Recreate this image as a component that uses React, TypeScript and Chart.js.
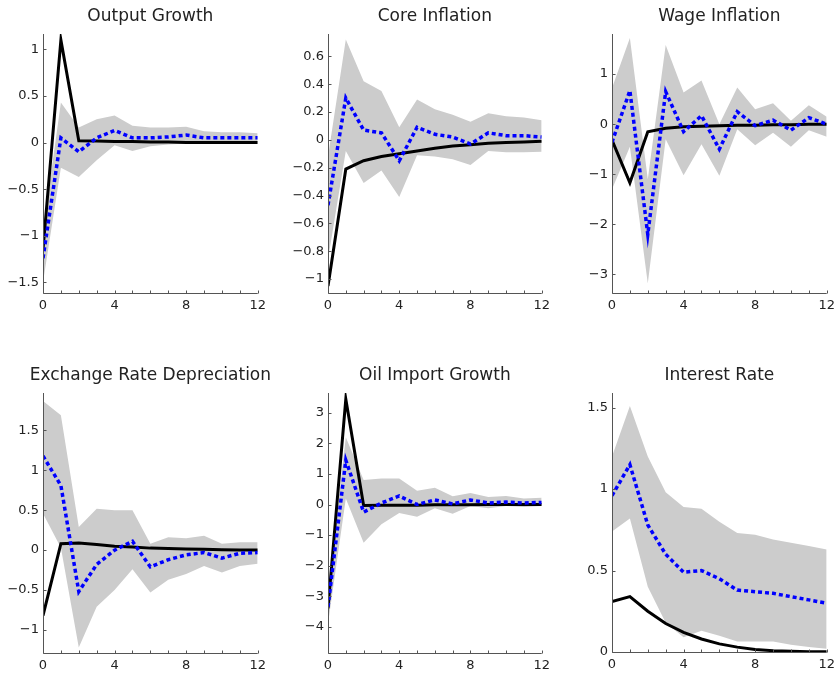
import React, { useEffect, useRef } from "react";
import { Chart, registerables } from "chart.js";

Chart.register(...registerables);

const horizons = [0, 1, 2, 3, 4, 5, 6, 7, 8, 9, 10, 11, 12];
const xTickLabels = [0, 4, 8, 12];

// Output Growth
const outBlack = [-1.15, 1.1, 0.02, 0.015, 0.01, 0.01, 0.005, 0.005, 0, 0, 0, 0, 0];
const outBlue = [-1.24, 0.05, -0.1, 0.05, 0.13, 0.05, 0.05, 0.06, 0.08, 0.05, 0.05, 0.05, 0.05];
const outUpper = [-0.95, 0.43, 0.16, 0.25, 0.29, 0.18, 0.16, 0.16, 0.17, 0.12, 0.11, 0.11, 0.1];
const outLower = [-1.5, -0.27, -0.37, -0.19, -0.03, -0.09, -0.04, -0.02, -0.01, -0.01, -0.01, -0.01, -0.01];
const outTicks = [-1.5, -1, -0.5, 0, 0.5, 1];

// Core Inflation
const coreBlack = [-1.05, -0.21, -0.15, -0.12, -0.1, -0.08, -0.06, -0.045, -0.035, -0.025, -0.02, -0.015, -0.01];
const coreBlue = [-0.47, 0.3, 0.07, 0.05, -0.15, 0.09, 0.04, 0.02, -0.03, 0.05, 0.03, 0.03, 0.02];
const coreUpper = [-0.12, 0.72, 0.42, 0.35, 0.09, 0.29, 0.22, 0.18, 0.13, 0.19, 0.17, 0.16, 0.14];
const coreLower = [-0.86, -0.08, -0.31, -0.22, -0.41, -0.11, -0.12, -0.14, -0.18, -0.08, -0.09, -0.09, -0.085];
const coreTicks = [-1, -0.8, -0.6, -0.4, -0.2, 0, 0.2, 0.4, 0.6];

// Wage Inflation
const wageBlack = [-0.32, -1.17, -0.15, -0.08, -0.05, -0.04, -0.03, -0.02, -0.02, -0.01, -0.01, 0, 0];
const wageBlue = [-0.36, 0.67, -2.2, 0.65, -0.15, 0.17, -0.5, 0.25, -0.03, 0.08, -0.12, 0.13, 0.0];
const wageUpper = [0.72, 1.72, -1.1, 1.58, 0.63, 0.87, 0.0, 0.73, 0.3, 0.42, 0.07, 0.38, 0.15];
const wageLower = [-1.3, -0.45, -3.18, -0.3, -1.02, -0.4, -1.03, -0.1, -0.42, -0.17, -0.45, -0.12, -0.25];
const wageTicks = [-3, -2, -1, 0, 1];

// Exchange Rate Depreciation
const exBlack = [-0.82, 0.08, 0.09, 0.07, 0.05, 0.04, 0.025, 0.02, 0.015, 0.01, 0.005, 0, 0];
const exBlue = [1.18, 0.81, -0.52, -0.18, 0.0, 0.11, -0.21, -0.12, -0.06, -0.03, -0.1, -0.04, -0.03];
const exUpper = [1.87, 1.69, 0.29, 0.52, 0.5, 0.5, 0.08, 0.16, 0.15, 0.18, 0.08, 0.1, 0.1];
const exLower = [0.46, 0.03, -1.22, -0.71, -0.5, -0.24, -0.53, -0.37, -0.3, -0.2, -0.28, -0.2, -0.17];
const exTicks = [-1, -0.5, 0, 0.5, 1, 1.5];

// Oil Import Growth
const oilBlack = [-3.4, 3.45, -0.03, -0.02, -0.02, -0.02, -0.01, -0.01, -0.01, 0, 0, 0, 0];
const oilBlue = [-3.35, 1.45, -0.25, 0.05, 0.28, 0.0, 0.15, 0.02, 0.15, 0.05, 0.08, 0.05, 0.07];
const oilUpper = [-2.9, 2.2, 0.8, 0.85, 0.85, 0.45, 0.55, 0.27, 0.38, 0.25, 0.28, 0.2, 0.22];
const oilLower = [-3.9, 0.2, -1.25, -0.65, -0.28, -0.4, -0.12, -0.3, -0.05, -0.12, -0.05, -0.08, -0.05];
const oilTicks = [-4, -3, -2, -1, 0, 1, 2, 3];

// Interest Rate
const intBlack = [0.31, 0.34, 0.25, 0.175, 0.12, 0.08, 0.05, 0.03, 0.015, 0.008, 0.004, 0.002, 0.001];
const intBlue = [0.96, 1.15, 0.78, 0.6, 0.49, 0.5, 0.45, 0.38, 0.37, 0.36, 0.34, 0.32, 0.3];
const intUpper = [1.2, 1.51, 1.2, 0.98, 0.89, 0.88, 0.8, 0.73, 0.72, 0.69, 0.67, 0.65, 0.63];
const intLower = [0.74, 0.82, 0.4, 0.18, 0.09, 0.13, 0.1, 0.065, 0.065, 0.065, 0.045, 0.03, 0.02];
const intTicks = [0, 0.5, 1, 1.5];

const FONT = "'DejaVu Sans', sans-serif";
const Y_W = 42;
const TOP_PAD = 34;
const X_H = 26;
const RIGHT_PAD = 12;

type PanelProps = {
  title: string;
  black: number[];
  blue: number[];
  upper: number[];
  lower: number[];
  yTicks: number[];
  yMin: number;
  yMax: number;
  L: number;
  R: number;
  T: number;
  B: number;
};

const fmt = (v: number) => (v < 0 ? "\u2212" + String(Math.abs(v)) : String(v));
const pts = (arr: number[]) => horizons.map((h, i) => ({ x: h, y: arr[i] }));

function Panel(p: PanelProps) {
  const ref = useRef<HTMLCanvasElement | null>(null);
  const W = p.R - p.L + Y_W + RIGHT_PAD;
  const H = p.B - p.T + TOP_PAD + X_H;
  useEffect(() => {
    if (!ref.current) return;
    const deco = {
      id: "deco",
      afterDatasetsDraw(chart: any) {
        const { ctx, chartArea, scales } = chart;
        const x = scales.x;
        const y = scales.y;
        ctx.save();
        ctx.strokeStyle = "#555";
        ctx.lineWidth = 1;
        ctx.beginPath();
        const ax = Math.round(chartArea.left) + 0.5;
        const ay = Math.round(chartArea.bottom) + 0.5;
        ctx.moveTo(ax, chartArea.top);
        ctx.lineTo(ax, ay);
        ctx.lineTo(chartArea.right, ay);
        x.ticks.forEach((t: any) => {
          const px = Math.round(x.getPixelForValue(t.value)) + 0.5;
          ctx.moveTo(px, ay);
          ctx.lineTo(px, ay - 3);
        });
        y.ticks.forEach((t: any) => {
          const py = Math.round(y.getPixelForValue(t.value)) + 0.5;
          ctx.moveTo(ax, py);
          ctx.lineTo(ax + 3, py);
        });
        ctx.stroke();
        ctx.fillStyle = "#222";
        ctx.font = "17px " + FONT;
        ctx.textAlign = "center";
        ctx.textBaseline = "middle";
        ctx.fillText(p.title, (chartArea.left + chartArea.right) / 2, chartArea.top - 17);
        ctx.restore();
      },
    };
    const chart = new Chart(ref.current, {
      type: "line",
      data: {
        datasets: [
          {
            data: pts(p.blue),
            borderColor: "#0000ff",
            borderWidth: 3.5,
            borderDash: [4, 3],
            pointRadius: 0,
            fill: false,
            order: 0,
          },
          {
            data: pts(p.black),
            borderColor: "#000000",
            borderWidth: 3,
            pointRadius: 0,
            fill: false,
            order: 1,
          },
          {
            data: pts(p.upper),
            borderColor: "rgba(0,0,0,0)",
            borderWidth: 0,
            backgroundColor: "#cccccc",
            pointRadius: 0,
            fill: "+1",
            order: 2,
          },
          {
            data: pts(p.lower),
            borderColor: "rgba(0,0,0,0)",
            borderWidth: 0,
            pointRadius: 0,
            fill: false,
            order: 3,
          },
        ],
      },
      options: {
        responsive: false,
        animation: false,
        devicePixelRatio: 1,
        layout: { padding: { left: 0, right: RIGHT_PAD, top: TOP_PAD, bottom: 0 } },
        plugins: { legend: { display: false }, tooltip: { enabled: false }, title: { display: false } },
        elements: { line: { tension: 0 } },
        scales: {
          x: {
            type: "linear",
            min: 0,
            max: 12,
            grid: { display: false, drawTicks: false },
            border: { display: false },
            afterBuildTicks: (s: any) => {
              s.ticks = horizons.map((v) => ({ value: v }));
            },
            afterFit: (s: any) => {
              s.height = X_H;
            },
            ticks: {
              autoSkip: false,
              maxRotation: 0,
              padding: 5,
              color: "#222",
              font: { family: FONT, size: 13 },
              callback: (v: any) => (xTickLabels.includes(Number(v)) ? String(v) : ""),
            },
          },
          y: {
            type: "linear",
            min: p.yMin,
            max: p.yMax,
            grid: { display: false, drawTicks: false },
            border: { display: false },
            afterBuildTicks: (s: any) => {
              s.ticks = p.yTicks.map((v) => ({ value: v }));
            },
            afterFit: (s: any) => {
              s.width = Y_W;
            },
            ticks: {
              autoSkip: false,
              padding: 4,
              color: "#222",
              font: { family: FONT, size: 13 },
              callback: (v: any) => fmt(Number(v)),
            },
          },
        },
      },
      plugins: [deco],
    } as any);
    return () => chart.destroy();
  }, []);
  return (
    <div style={{ position: "absolute", left: p.L - Y_W, top: p.T - TOP_PAD, width: W, height: H }}>
      <canvas ref={ref} width={W} height={H} style={{ display: "block", width: W, height: H }} />
    </div>
  );
}

export default function App() {
  return (
    <div
      style={{
        position: "absolute",
        left: 0,
        top: 0,
        width: 837,
        height: 679,
        overflow: "hidden",
        background: "#fff",
      }}
    >
      <Panel title="Output Growth" black={outBlack} blue={outBlue} upper={outUpper} lower={outLower} yTicks={outTicks} yMin={-1.614} yMax={1.164} L={43} R={259} T={34} B={293} />
      <Panel title="Core Inflation" black={coreBlack} blue={coreBlue} upper={coreUpper} lower={coreLower} yTicks={coreTicks} yMin={-1.1} yMax={0.76} L={328} R={543} T={34} B={293} />
      <Panel title="Wage Inflation" black={wageBlack} blue={wageBlue} upper={wageUpper} lower={wageLower} yTicks={wageTicks} yMin={-3.37} yMax={1.8} L={612} R={828} T={34} B={293} />
      <Panel title="Exchange Rate Depreciation" black={exBlack} blue={exBlue} upper={exUpper} lower={exLower} yTicks={exTicks} yMin={-1.29} yMax={1.97} L={43} R={259} T={393} B={653} />
      <Panel title="Oil Import Growth" black={oilBlack} blue={oilBlue} upper={oilUpper} lower={oilLower} yTicks={oilTicks} yMin={-4.86} yMax={3.65} L={328} R={543} T={393} B={653} />
      <Panel title="Interest Rate" black={intBlack} blue={intBlue} upper={intUpper} lower={intLower} yTicks={intTicks} yMin={0} yMax={1.59} L={612} R={828} T={393} B={652} />
    </div>
  );
}
